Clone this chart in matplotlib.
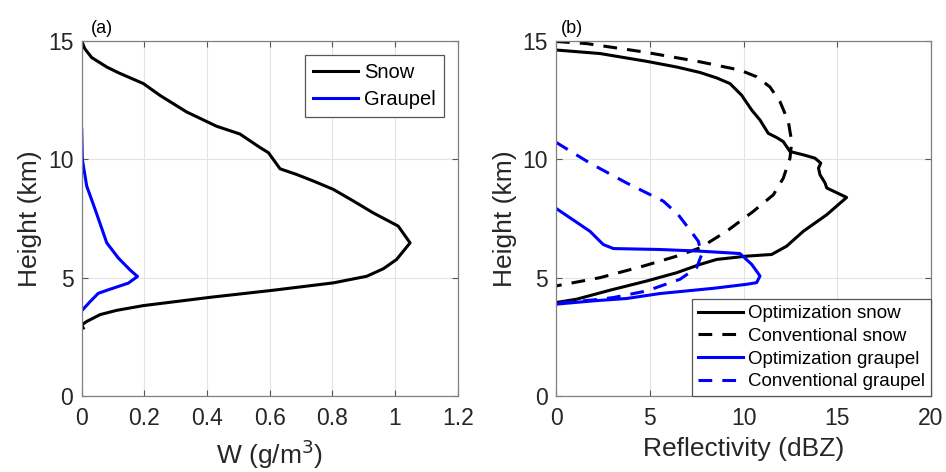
import matplotlib
matplotlib.use('Agg')
from matplotlib import pyplot as plt

plt.rcParams['font.family'] = ['Liberation Sans', 'DejaVu Sans']

# panel (a): mixing ratio profiles
snow_w = [0.0, 0.01, 0.032, 0.08, 0.117, 0.197, 0.25, 0.335, 0.367, 0.43, 0.505,
          0.569, 0.596, 0.633, 0.686, 0.74, 0.803, 0.867, 0.93, 1.01, 1.048, 1.005,
          0.963, 0.91, 0.803, 0.612, 0.41, 0.197, 0.112, 0.059, 0.016, 0.0, 0.005]
snow_h = [15.0, 14.67, 14.3, 13.9, 13.66, 13.2, 12.7, 12.0, 11.8, 11.4, 11.07,
          10.5, 10.28, 9.6, 9.36, 9.08, 8.73, 8.24, 7.74, 7.18, 6.47, 5.77,
          5.38, 5.06, 4.78, 4.47, 4.17, 3.82, 3.62, 3.44, 3.15, 3.0, 2.87]
graupel_w = [0.0, 0.002, 0.016, 0.043, 0.08, 0.117, 0.154, 0.178, 0.149, 0.09,
             0.053, 0.027, 0.002]
graupel_h = [11.28, 10.0, 8.87, 7.88, 6.47, 5.83, 5.33, 5.05, 4.77, 4.51,
             4.34, 3.99, 3.63]

# panel (b): reflectivity profiles
opt_snow_z = [0.0, 2.35, 4.84, 6.44, 7.68, 8.57, 9.28, 9.9, 10.44, 10.88, 11.32,
              11.77, 12.12, 12.48, 13.19, 13.81, 14.12, 14.0, 14.08, 14.35, 14.44,
              15.5, 14.44, 13.19, 12.3, 11.5, 10.17, 8.57, 7.68, 6.44, 4.84, 2.88,
              1.1, 0.0]
opt_snow_h = [14.62, 14.47, 14.14, 13.9, 13.67, 13.44, 13.2, 12.71, 12.08, 11.66, 11.1,
              10.92, 10.75, 10.33, 10.19, 10.05, 9.84, 9.63, 9.35, 9.0, 8.79,
              8.39, 7.66, 6.96, 6.33, 5.98, 5.91, 5.77, 5.56, 5.21, 4.86, 4.47,
              4.09, 3.95]
conv_snow_z = [0.0, 1.64, 4.66, 7.68, 9.81, 10.7, 11.41, 11.95, 12.39, 12.57, 12.48,
               12.12, 11.59, 10.52, 9.1, 7.68, 6.44, 4.66, 2.35, 0.0]
conv_snow_h = [14.98, 14.89, 14.54, 14.12, 13.77, 13.49, 13.06, 12.43, 11.6, 10.75, 10.05,
               9.2, 8.5, 7.8, 6.96, 6.26, 5.91, 5.49, 5.0, 4.65]
opt_gr_z = [0.0, 1.81, 2.52, 3.06, 5.55, 7.68, 9.81, 10.44, 10.88, 10.7, 10.17,
            8.39, 5.55, 3.77, 1.99, 0.0]
opt_gr_h = [7.93, 6.96, 6.4, 6.23, 6.19, 6.12, 6.02, 5.56, 5.07, 4.79, 4.72,
            4.55, 4.33, 4.12, 4.02, 3.88]
conv_gr_z = [0.0, 1.81, 3.77, 5.73, 6.52, 7.06, 7.59, 7.77, 7.5, 6.61, 4.84,
             3.06, 1.99, 0.0]
conv_gr_h = [10.72, 9.84, 9.0, 8.23, 7.66, 7.1, 6.54, 5.98, 5.42, 4.93, 4.44,
             4.16, 4.06, 3.92]

W, H = 946, 472
fig = plt.figure(figsize=(W / 100, H / 100), dpi=100)
axa = fig.add_axes([81.7 / W, 76 / H, 376 / W, 355 / H])
axb = fig.add_axes([556 / W, 76 / H, 375 / W, 355 / H])

lw = 2.2
dsh = (4.5, 3.3)
axa.plot(snow_w, snow_h, color='k', lw=lw, label='Snow')
axa.plot(graupel_w, graupel_h, color='#0000ff', lw=lw, label='Graupel')

axb.plot(opt_snow_z, opt_snow_h, color='k', lw=lw, label='Optimization snow')
axb.plot(conv_snow_z, conv_snow_h, color='k', lw=lw, dashes=dsh, label='Conventional snow')
axb.plot(opt_gr_z, opt_gr_h, color='#0000ff', lw=lw, label='Optimization graupel')
axb.plot(conv_gr_z, conv_gr_h, color='#0000ff', lw=lw, dashes=dsh, label='Conventional graupel')

axa.set_xlim(0, 1.2)
axa.set_xticks([0, 0.2, 0.4, 0.6, 0.8, 1.0, 1.2])
axa.set_xticklabels(['0', '0.2', '0.4', '0.6', '0.8', '1', '1.2'])
axb.set_xlim(0, 20)
axb.set_xticks([0, 5, 10, 15, 20])

for ax in (axa, axb):
    ax.set_ylim(0, 15)
    ax.set_yticks([0, 5, 10, 15])
    ax.grid(True, color='#e3e3e3', lw=0.8)
    ax.set_axisbelow(True)
    ax.tick_params(direction='in', length=4, width=0.8, color='#555555',
                   labelsize=16.5, labelcolor='#262626', top=True, right=True,
                   labeltop=False, labelright=False, pad=6)
    ax.tick_params(axis='x', pad=8)
    for s in ax.spines.values():
        s.set_color('#808080')
        s.set_linewidth(0.9)
    ax.set_ylabel('Height (km)', fontsize=19, color='#262626', labelpad=4)

axa.set_xlabel('W (g/m$^3$)', fontsize=19, color='#262626', labelpad=5)
axb.set_xlabel('Reflectivity (dBZ)', fontsize=19, color='#262626', labelpad=5)

axa.text(0.025, 1.012, '(a)', transform=axa.transAxes, fontsize=13, va='bottom')
axb.text(0.012, 1.012, '(b)', transform=axb.transAxes, fontsize=13, va='bottom')

lga = axa.legend(loc='upper right', fontsize=14.5, handlelength=2.2, handletextpad=0.3,
                 borderaxespad=0.7, fancybox=False, borderpad=0.4, labelspacing=0.4,
                 framealpha=1)
lga.get_frame().set_edgecolor('#555555')
lga.get_frame().set_linewidth(0.9)
lgb = axb.legend(loc='lower right', fontsize=13.5, handlelength=2.4, handletextpad=0.3,
                 borderaxespad=0.0, fancybox=False, borderpad=0.3, labelspacing=0.3,
                 framealpha=1)
lgb.get_frame().set_edgecolor('#555555')
lgb.get_frame().set_linewidth(0.9)

fig.savefig('out.png', dpi=100)
